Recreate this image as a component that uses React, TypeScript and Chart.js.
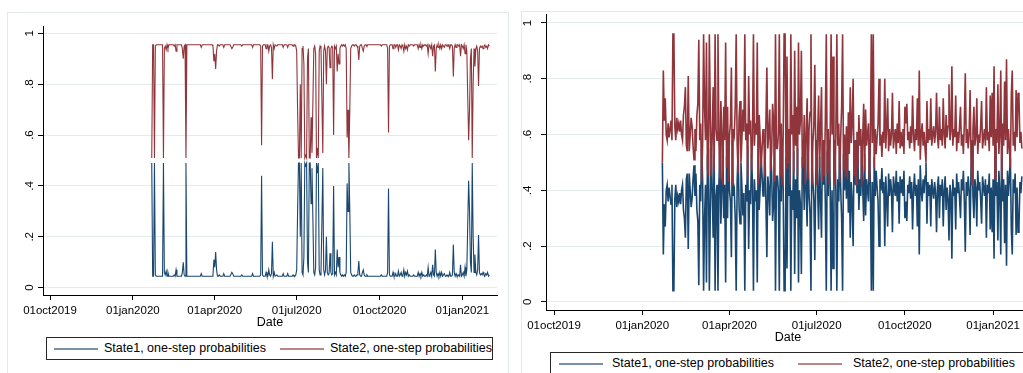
import React, { useEffect, useRef } from "react";
import { Chart, registerables } from "chart.js";

Chart.register(...registerables);

// ---------------- data ----------------
const START_DATE = "2020-01-22"; // first daily observation
const TICK_DATES = ["2019-10-01", "2020-01-01", "2020-04-01", "2020-07-01", "2020-10-01", "2021-01-01"];
const TICK_LABELS = ["01oct2019", "01jan2020", "01apr2020", "01jul2020", "01oct2020", "01jan2021"];
const Y_TICKS = [0, 0.2, 0.4, 0.6, 0.8, 1];
const Y_LABELS = ["0", ".2", ".4", ".6", ".8", "1"];
const SERIES_NAMES = ["State1, one-step probabilities", "State2, one-step probabilities"];
const X_TITLE = "Date";

// left panel
const LEFT_STATE1 = [
  .49,.045,.045,.49,.05,.045,.045,.045,.045,.045,
  .045,.045,.045,.49,.06,.05,.065,.045,.06,.045,
  .045,.045,.045,.045,.045,.05,.045,.07,.045,.045,
  .045,.045,.045,.045,.06,.10,.05,.045,.49,.045,
  .045,.045,.045,.045,.045,.045,.045,.045,.045,.045,
  .045,.045,.045,.045,.045,.055,.045,.045,.045,.045,
  .045,.045,.045,.045,.045,.045,.045,.045,.05,.11,
  .08,.14,.07,.045,.045,.05,.045,.045,.045,.045,
  .055,.045,.045,.045,.045,.045,.045,.045,.045,.06,
  .055,.045,.045,.045,.045,.045,.045,.045,.045,.045,
  .05,.045,.045,.045,.045,.045,.045,.045,.045,.045,
  .045,.045,.055,.045,.045,.045,.045,.045,.045,.045,
  .045,.05,.44,.05,.045,.045,.045,.06,.045,.045,
  .07,.05,.045,.055,.18,.045,.06,.045,.045,.05,
  .045,.045,.045,.045,.045,.045,.055,.045,.045,.045,
  .045,.055,.045,.045,.045,.045,.045,.05,.045,.045,
  .05,.07,.30,.49,.49,.20,.49,.06,.05,.12,
  .49,.48,.49,.10,.06,.49,.49,.33,.47,.27,
  .06,.05,.08,.49,.45,.49,.07,.05,.06,.26,
  .47,.07,.05,.07,.20,.06,.05,.055,.135,.06,
  .05,.055,.40,.05,.06,.05,.15,.08,.12,.06,
  .05,.045,.05,.045,.05,.045,.06,.41,.30,.49,
  .30,.06,.05,.045,.045,.05,.045,.045,.05,.06,
  .105,.05,.045,.045,.06,.07,.05,.045,.045,.05,
  .045,.045,.045,.045,.045,.045,.045,.045,.045,.045,
  .045,.045,.045,.045,.045,.05,.045,.045,.045,.045,
  .045,.045,.06,.39,.05,.045,.045,.045,.06,.045,
  .045,.055,.045,.045,.065,.045,.05,.06,.045,.05,
  .07,.045,.06,.05,.065,.045,.05,.045,.045,.045,
  .045,.05,.045,.045,.045,.045,.06,.045,.055,.045,
  .06,.045,.05,.045,.045,.05,.045,.08,.045,.05,
  .06,.045,.09,.05,.045,.15,.06,.045,.055,.045,
  .06,.045,.06,.045,.05,.055,.045,.045,.05,.045,
  .045,.06,.045,.045,.05,.17,.06,.045,.055,.045,
  .045,.05,.045,.09,.045,.05,.06,.045,.08,.045,
  .07,.25,.42,.30,.10,.06,.49,.20,.06,.13,
  .06,.05,.07,.207,.06,.05,.055,.05,.06,.05,
  .045,.055,.05,.06,.045,.05,
];
const LEFT_STATE2 = [
  .51,.955,.955,.51,.95,.955,.955,.955,.955,.955,
  .955,.955,.955,.51,.94,.95,.935,.955,.94,.955,
  .955,.955,.955,.955,.955,.95,.955,.93,.955,.955,
  .955,.955,.955,.955,.94,.90,.95,.955,.51,.955,
  .955,.955,.955,.955,.955,.955,.955,.955,.955,.955,
  .955,.955,.955,.955,.955,.945,.955,.955,.955,.955,
  .955,.955,.955,.955,.955,.955,.955,.955,.95,.89,
  .92,.86,.93,.955,.955,.95,.955,.955,.955,.955,
  .945,.955,.955,.955,.955,.955,.955,.955,.955,.94,
  .945,.955,.955,.955,.955,.955,.955,.955,.955,.955,
  .95,.955,.955,.955,.955,.955,.955,.955,.955,.955,
  .955,.955,.945,.955,.955,.955,.955,.955,.955,.955,
  .955,.95,.56,.95,.955,.955,.955,.94,.955,.955,
  .93,.95,.955,.945,.82,.955,.94,.955,.955,.95,
  .955,.955,.955,.955,.955,.955,.945,.955,.955,.955,
  .955,.945,.955,.955,.955,.955,.955,.95,.955,.955,
  .95,.93,.70,.51,.51,.80,.51,.94,.95,.88,
  .51,.52,.51,.90,.94,.51,.51,.67,.53,.73,
  .94,.95,.92,.51,.55,.51,.93,.95,.94,.74,
  .53,.93,.95,.93,.80,.94,.95,.945,.865,.94,
  .95,.945,.60,.95,.94,.95,.85,.92,.88,.94,
  .95,.955,.95,.955,.95,.955,.94,.59,.70,.51,
  .70,.94,.95,.955,.955,.95,.955,.955,.95,.94,
  .895,.95,.955,.955,.94,.93,.95,.955,.955,.95,
  .955,.955,.955,.955,.955,.955,.955,.955,.955,.955,
  .955,.955,.955,.955,.955,.95,.955,.955,.955,.955,
  .955,.955,.94,.61,.95,.955,.955,.955,.94,.955,
  .955,.945,.955,.955,.935,.955,.95,.94,.955,.95,
  .93,.955,.94,.95,.935,.955,.95,.955,.955,.955,
  .955,.95,.955,.955,.955,.955,.94,.955,.945,.955,
  .94,.955,.95,.955,.955,.95,.955,.92,.955,.95,
  .94,.955,.91,.95,.955,.85,.94,.955,.945,.955,
  .94,.955,.94,.955,.95,.945,.955,.955,.95,.955,
  .955,.94,.955,.955,.95,.83,.94,.955,.945,.955,
  .955,.95,.955,.91,.955,.95,.94,.955,.92,.955,
  .93,.75,.58,.70,.90,.94,.51,.80,.94,.87,
  .94,.95,.93,.793,.94,.95,.945,.95,.94,.95,
  .955,.945,.95,.94,.955,.95,
];

// right panel
const RIGHT_STATE1 = [
  .50,.17,.35,.27,.40,.42,.36,.41,.38,.35,
  .42,.04,.04,.37,.42,.34,.38,.36,.39,.35,
  .40,.42,.33,.30,.23,.44,.46,.19,.46,.40,
  .34,.37,.44,.49,.38,.46,.33,.29,.06,.42,
  .36,.57,.43,.04,.30,.42,.07,.52,.55,.04,
  .33,.55,.40,.23,.53,.04,.38,.42,.04,.42,
  .56,.28,.40,.58,.30,.42,.07,.52,.30,.57,
  .40,.36,.16,.58,.38,.40,.30,.04,.43,.54,
  .34,.28,.50,.41,.31,.39,.04,.42,.36,.56,
  .19,.40,.35,.53,.42,.04,.44,.36,.40,.07,
  .58,.33,.41,.52,.45,.38,.43,.55,.36,.16,
  .45,.40,.31,.53,.46,.29,.35,.57,.04,.45,
  .45,.40,.04,.55,.36,.58,.41,.04,.04,.52,
  .12,.50,.38,.58,.04,.40,.33,.54,.10,.44,
  .30,.55,.07,.40,.35,.10,.52,.50,.33,.58,
  .40,.27,.56,.38,.32,.04,.58,.43,.37,.15,
  .45,.58,.40,.26,.52,.37,.23,.57,.42,.55,
  .35,.04,.54,.38,.58,.43,.04,.40,.12,.55,
  .58,.39,.04,.44,.36,.57,.41,.30,.04,.53,
  .40,.55,.37,.56,.32,.47,.23,.43,.36,.20,
  .55,.42,.58,.39,.52,.33,.44,.38,.58,.41,
  .29,.53,.31,.44,.40,.36,.57,.42,.04,.43,
  .04,.52,.38,.47,.41,.36,.20,.44,.40,.48,
  .39,.43,.20,.45,.37,.27,.46,.38,.44,.40,
  .25,.45,.41,.38,.47,.36,.43,.28,.45,.39,
  .44,.38,.47,.30,.36,.29,.42,.39,.45,.37,
  .43,.26,.40,.46,.38,.42,.27,.44,.17,.49,
  .40,.36,.44,.39,.45,.50,.28,.43,.38,.42,
  .27,.44,.40,.37,.43,.39,.25,.41,.45,.30,
  .42,.38,.44,.27,.40,.45,.33,.41,.37,.22,
  .42,.39,.155,.44,.38,.41,.26,.46,.39,.43,
  .37,.30,.44,.40,.47,.36,.18,.43,.38,.45,
  .40,.24,.48,.58,.38,.30,.44,.41,.27,.47,
  .40,.43,.37,.28,.45,.41,.38,.44,.23,.42,
  .39,.46,.26,.41,.25,.44,.155,.56,.38,.43,
  .22,.47,.40,.17,.56,.36,.44,.21,.42,.13,
  .47,.38,.45,.52,.26,.17,.44,.39,.46,.24,
  .41,.25,.27,.43,.39,.45,
];
const RIGHT_STATE2 = [
  .50,.83,.65,.73,.60,.58,.64,.59,.62,.65,
  .58,.96,.96,.63,.58,.66,.62,.64,.61,.65,
  .60,.58,.67,.70,.77,.56,.54,.81,.54,.60,
  .66,.63,.56,.51,.62,.54,.67,.71,.94,.58,
  .64,.43,.57,.96,.70,.58,.93,.48,.45,.96,
  .67,.45,.60,.77,.47,.96,.62,.58,.96,.58,
  .44,.72,.60,.42,.70,.58,.93,.48,.70,.43,
  .60,.64,.84,.42,.62,.60,.70,.96,.57,.46,
  .66,.72,.50,.59,.69,.61,.96,.58,.64,.44,
  .81,.60,.65,.47,.58,.96,.56,.64,.60,.93,
  .42,.67,.59,.48,.55,.62,.57,.45,.64,.84,
  .55,.60,.69,.47,.54,.71,.65,.43,.96,.55,
  .55,.60,.96,.45,.64,.42,.59,.96,.96,.48,
  .88,.50,.62,.42,.96,.60,.67,.46,.90,.56,
  .70,.45,.93,.60,.65,.90,.48,.50,.67,.42,
  .60,.73,.44,.62,.68,.96,.42,.57,.63,.85,
  .55,.42,.60,.74,.48,.63,.77,.43,.58,.45,
  .65,.96,.46,.62,.42,.57,.96,.60,.88,.45,
  .42,.61,.96,.56,.64,.43,.59,.70,.96,.47,
  .60,.45,.63,.44,.68,.53,.77,.57,.64,.80,
  .45,.58,.42,.61,.48,.67,.56,.62,.42,.59,
  .71,.47,.69,.56,.60,.64,.43,.58,.96,.57,
  .96,.48,.62,.53,.59,.64,.80,.56,.60,.52,
  .61,.57,.80,.55,.63,.73,.54,.62,.56,.60,
  .75,.55,.59,.62,.53,.64,.57,.72,.55,.61,
  .56,.62,.53,.70,.64,.71,.58,.61,.55,.63,
  .57,.74,.60,.54,.62,.58,.73,.56,.83,.51,
  .60,.64,.56,.61,.55,.50,.72,.57,.62,.58,
  .73,.56,.60,.63,.57,.61,.75,.59,.55,.70,
  .58,.62,.56,.73,.60,.55,.67,.59,.63,.78,
  .58,.61,.845,.56,.62,.59,.74,.54,.61,.57,
  .63,.70,.56,.60,.53,.64,.82,.57,.62,.55,
  .60,.76,.52,.42,.62,.70,.56,.59,.73,.53,
  .60,.57,.63,.72,.55,.59,.62,.56,.77,.58,
  .61,.54,.74,.59,.75,.56,.845,.44,.62,.57,
  .78,.53,.60,.83,.44,.64,.56,.79,.58,.87,
  .53,.62,.55,.48,.74,.83,.56,.61,.54,.76,
  .59,.75,.73,.57,.61,.55,
];

// ---------------- helpers ----------------
const dayNum = (iso: string) => Math.round(Date.parse(iso + "T00:00:00Z") / 86400000);
const START_DAY = dayNum(START_DATE);
const DAYS = LEFT_STATE1.map((_, i) => START_DAY + i);
const TICK_DAYS = TICK_DATES.map(dayNum);

const BLUE = "#1a476f";
const RED = "#90353b";
const FONT = "'Liberation Sans', Arial, Helvetica, sans-serif";

type PanelCfg = {
  left: number; width: number; height: number;
  area: { left: number; right: number; top: number; bottom: number };
  xMin: number; xMax: number; yMin: number; yMax: number;
  xH: number; lineWidth: number; yPad: number;
  s1: number[]; s2: number[];
};

function Panel({ cfg }: { cfg: PanelCfg }) {
  const ref = useRef<HTMLCanvasElement | null>(null);
  useEffect(() => {
    if (!ref.current) return;
    const { area, width, height, xH } = cfg;
    const tickFont = { family: FONT, size: 11.5 };
    const chart = new Chart(ref.current, {
      type: "line",
      data: {
        labels: DAYS,
        datasets: [
          { label: SERIES_NAMES[0], data: cfg.s1, borderColor: BLUE, borderWidth: cfg.lineWidth, pointRadius: 0, tension: 0, fill: false, order: 1 },
          { label: SERIES_NAMES[1], data: cfg.s2, borderColor: RED, borderWidth: cfg.lineWidth, pointRadius: 0, tension: 0, fill: false, order: 0 },
        ],
      },
      options: {
        responsive: false,
        maintainAspectRatio: false,
        animation: false,
        events: [],
        layout: {
          padding: { left: 0, top: area.top, right: width - area.right, bottom: height - area.bottom - xH },
        },
        plugins: { legend: { display: false }, tooltip: { enabled: false } },
        scales: {
          x: {
            type: "linear",
            min: cfg.xMin,
            max: cfg.xMax,
            afterFit: (s: any) => { s.height = xH; },
            afterBuildTicks: (s: any) => { s.ticks = TICK_DAYS.map((v) => ({ value: v })); },
            grid: { drawOnChartArea: false, drawTicks: true, tickLength: 5, color: "#000", tickColor: "#000" },
            border: { display: true, color: "#000", width: 1 },
            ticks: {
              autoSkip: false, maxRotation: 0, minRotation: 0, padding: 4, color: "#000", font: tickFont,
              callback: (v: any) => TICK_LABELS[TICK_DAYS.indexOf(Number(v))] ?? "",
            },
            title: { display: true, text: X_TITLE, color: "#000", font: { family: FONT, size: 12.5 }, padding: { top: 0, bottom: 0 } },
          },
          y: {
            type: "linear",
            min: cfg.yMin,
            max: cfg.yMax,
            afterFit: (s: any) => { s.width = area.left; },
            afterBuildTicks: (s: any) => { s.ticks = Y_TICKS.map((v) => ({ value: v })); },
            grid: { color: "#e3ebed", tickColor: "#000", tickLength: 5, drawTicks: true, lineWidth: 1 },
            border: { display: true, color: "#000", width: 1 },
            ticks: {
              minRotation: 90, maxRotation: 90, crossAlign: "center", padding: cfg.yPad, color: "#000", font: tickFont,
              callback: (v: any) => Y_LABELS[Y_TICKS.findIndex((t) => Math.abs(t - Number(v)) < 1e-9)] ?? "",
            },
          },
        },
      },
    } as any);
    return () => chart.destroy();
  }, [cfg]);
  return (
    <canvas
      ref={ref}
      width={cfg.width}
      height={cfg.height}
      style={{ position: "absolute", left: cfg.left, top: 0, width: cfg.width, height: cfg.height, display: "block" }}
    />
  );
}

function Legend({ left, top, width, items }: { left: number; top: number; width: number; items: { sx: number; tx: number; color: string; text: string }[] }) {
  return (
    <div style={{ position: "absolute", left, top, width, height: 23, border: "1px solid #262626", boxSizing: "border-box", background: "#fff" }}>
      {items.map((it, k) => (
        <React.Fragment key={k}>
          <div style={{ position: "absolute", left: it.sx - left, top: 10, width: 44, height: 2, background: it.color, opacity: 0.6 }} />
          <div style={{ position: "absolute", left: it.tx - left, top: 3, whiteSpace: "nowrap", font: `12.5px ${FONT}`, lineHeight: "15px", color: "#000" }}>{it.text}</div>
        </React.Fragment>
      ))}
    </div>
  );
}

const LEFT_CFG: PanelCfg = {
  left: 0, width: 512, height: 373,
  area: { left: 43, right: 497, top: 26, bottom: 295 },
  xMin: TICK_DAYS[0] - 7.8, xMax: TICK_DAYS[5] + 38.5,
  yMin: -0.029, yMax: 1.029,
  xH: 35.5, lineWidth: 1.1, yPad: 3,
  s1: LEFT_STATE1, s2: LEFT_STATE2,
};

const RIGHT_CFG: PanelCfg = {
  left: 512, width: 540, height: 373,
  area: { left: 34, right: 518, top: 10, bottom: 310 },
  xMin: TICK_DAYS[0] - 8.4, xMax: TICK_DAYS[5] + 38.5,
  yMin: -0.029, yMax: 1.029,
  xH: 35.5, lineWidth: 1.6, yPad: 8,
  s1: RIGHT_STATE1, s2: RIGHT_STATE2,
};

export default function App() {
  return (
    <div style={{ position: "fixed", left: 0, top: 0, width: 1023, height: 373, overflow: "hidden", background: "#fff" }}>
      <div style={{ position: "absolute", left: 7, top: 12, width: 502, height: 380, border: "1px solid #e3e9eb", boxSizing: "border-box" }} />
      <div style={{ position: "absolute", left: 521, top: 11, width: 540, height: 380, border: "1px solid #e3e9eb", boxSizing: "border-box" }} />
      <Panel cfg={LEFT_CFG} />
      <Panel cfg={RIGHT_CFG} />
      <Legend
        left={46}
        top={337}
        width={447}
        items={[
          { sx: 53, tx: 103, color: BLUE, text: SERIES_NAMES[0] },
          { sx: 279, tx: 329, color: RED, text: SERIES_NAMES[1] },
        ]}
      />
      <Legend
        left={550}
        top={352}
        width={500}
        items={[
          { sx: 558, tx: 611, color: BLUE, text: SERIES_NAMES[0] },
          { sx: 797, tx: 852, color: RED, text: SERIES_NAMES[1] },
        ]}
      />
    </div>
  );
}
